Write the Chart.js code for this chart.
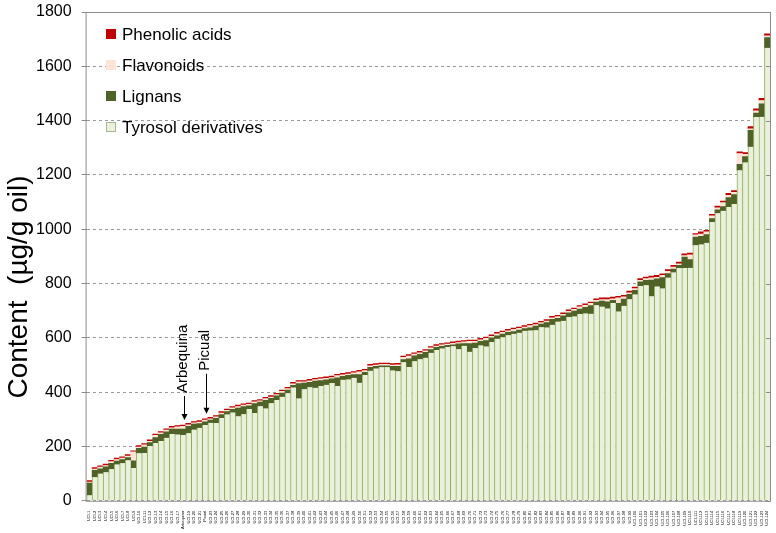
<!DOCTYPE html>
<html>
<head>
<meta charset="utf-8">
<script src="https://cdn.jsdelivr.net/npm/chart.js@4/dist/chart.umd.min.js"></script>
<style>
  body { margin: 0; background: #fff; }
  #wrap { position: relative; width: 776px; height: 533px; }
  #legend { position: absolute; left: 106px; top: 22px; font-family: "Liberation Sans", Arial, sans-serif; font-size: 17px; color: #000; }
  #legend div { height: 31px; line-height: 26px; white-space: nowrap; }
  #legend span { display: inline-block; width: 10px; height: 10px; margin-right: 6px; vertical-align: 1px; box-sizing: border-box; }
</style>
</head>
<body>
<div id="wrap">
  <canvas id="graphOil" width="776" height="533"></canvas>
  <div id="legend">
    <div><span style="background:#C00000"></span>Phenolic acids</div>
    <div><span style="background:#FCE4D6"></span>Flavonoids</div>
    <div><span style="background:#4F6228"></span>Lignans</div>
    <div><span style="background:#EBF1DE;border:1px solid #A6B98A"></span>Tyrosol derivatives</div>
  </div>
</div>
<script>
// values, oils sorted by total content
const tyrosol = [
  20, 87, 100, 105, 116, 134, 138, 149, 121, 175,
  176, 202, 213, 220, 232, 246, 244, 242, 249, 262,
  269, 279, 287, 286, 305, 318, 325, 311, 319, 338,
  323, 348, 340, 359, 371, 383, 396, 417, 377, 411,
  418, 416, 423, 427, 434, 423, 446, 447, 453, 435,
  463, 479, 487, 492, 492, 480, 477, 510, 493, 514,
  521, 527, 545, 555, 561, 566, 569, 558, 571, 549,
  563, 572, 568, 585, 597, 602, 610, 615, 619, 626,
  627, 628, 639, 638, 648, 660, 663, 677, 679, 688,
  690, 689, 720, 715, 708, 728, 697, 718, 742, 760,
  791, 794, 753, 789, 782, 822, 841, 857, 857, 858,
  941, 944, 950, 1027, 1059, 1068, 1082, 1093, 1217, 1246,
  1304, 1413, 1414, 1668
]
const lignans = [
  45, 25, 18, 20, 22, 12, 14, 10, 26, 18,
  22, 12, 20, 25, 22, 18, 20, 22, 25, 20,
  15, 12, 10, 18, 12, 10, 12, 30, 28, 12,
  35, 15, 30, 18, 15, 14, 12, 8, 55, 22,
  18, 25, 20, 18, 15, 30, 12, 15, 12, 30,
  10, 12, 8, 5, 5, 15, 18, 10, 30, 20,
  18, 20, 12, 10, 8, 6, 5, 20, 8, 30,
  18, 15, 22, 15, 10, 12, 10, 8, 10, 8,
  10, 15, 12, 18, 20, 12, 18, 15, 20, 18,
  22, 30, 12, 20, 25, 10, 30, 25, 18, 15,
  15, 18, 60, 28, 40, 15, 12, 10, 40, 30,
  30, 30, 30, 12, 12, 15, 35, 35, 22, 22,
  60, 15, 48, 38
]
const flavonoids = [
  4, 5, 6, 5, 6, 6, 5, 6, 33, 5,
  8, 5, 8, 5, 6, 5, 8, 10, 6, 5,
  6, 6, 5, 5, 6, 5, 5, 6, 5, 5,
  6, 5, 6, 5, 5, 6, 5, 6, 6, 5,
  6, 5, 6, 6, 5, 8, 6, 5, 6, 10,
  6, 6, 5, 5, 5, 5, 6, 8, 10, 6,
  6, 5, 6, 5, 5, 5, 6, 5, 6, 8,
  6, 6, 8, 6, 8, 6, 6, 8, 6, 6,
  8, 6, 5, 6, 6, 6, 6, 6, 6, 8,
  8, 8, 6, 6, 8, 6, 20, 8, 6, 6,
  6, 6, 8, 6, 8, 8, 8, 6, 6, 18,
  8, 8, 10, 10, 8, 15, 8, 8, 40, 8,
  6, 8, 12, 6
]
const phenolicAcids = [
  5, 5, 5, 5, 5, 5, 5, 5, 4, 5,
  5, 5, 5, 5, 5, 5, 5, 5, 5, 5,
  5, 5, 5, 5, 5, 5, 5, 5, 5, 5,
  5, 5, 5, 5, 5, 5, 5, 5, 5, 5,
  5, 5, 5, 5, 5, 5, 5, 5, 5, 5,
  5, 5, 5, 5, 5, 5, 5, 5, 5, 5,
  5, 5, 5, 5, 5, 5, 5, 5, 5, 5,
  5, 5, 5, 5, 5, 5, 5, 5, 5, 5,
  5, 5, 5, 5, 5, 5, 5, 5, 5, 5,
  5, 5, 6, 6, 6, 6, 6, 6, 6, 6,
  6, 6, 6, 7, 6, 6, 6, 6, 6, 6,
  5, 8, 6, 6, 6, 6, 7, 6, 6, 6,
  8, 7, 8, 8
]
const yTicks = [0, 200, 400, 600, 800, 1000, 1200, 1400, 1600, 1800]
const yTitle = 'Content  (µg/g oil)'

// oil labels (too small to read in the original), two named cultivars
const labels = tyrosol.map((v, i) => 'UCI-' + (i + 1))
labels[17] = 'Arbequina'
labels[21] = 'Picual'
const marked = [
  { index: 17, text: 'Arbequina', len: 24 },
  { index: 21, text: 'Picual', len: 40 }
]

const totalAt = i => tyrosol[i] + lignans[i] + flavonoids[i] + phenolicAcids[i]

const framePlugin = {
  id: 'frameAndArrows',
  afterDatasetsDraw(chart) {
    const { ctx, chartArea: a, scales } = chart
    ctx.save()
    ctx.strokeStyle = '#8c8c8c'
    ctx.lineWidth = 1
    ctx.strokeRect(a.left - 0.5, a.top + 0.5, a.right - a.left + 1, a.bottom - a.top)
    // right side tick marks
    yTicks.forEach(t => {
      const y = Math.round(scales.y.getPixelForValue(t)) + 0.5
      ctx.beginPath()
      ctx.moveTo(a.right - 4, y)
      ctx.lineTo(a.right, y)
      ctx.stroke()
    })
    ctx.strokeStyle = '#000'
    ctx.fillStyle = '#000'
    ctx.font = '15px "Liberation Sans", Arial, sans-serif'
    marked.forEach(m => {
      const x = Math.round(scales.x.getPixelForValue(m.index)) + 1.5
      const tip = scales.y.getPixelForValue(totalAt(m.index)) - 5
      const start = tip - m.len
      ctx.beginPath()
      ctx.moveTo(x, start)
      ctx.lineTo(x, tip - 4)
      ctx.stroke()
      ctx.beginPath()
      ctx.moveTo(x - 3, tip - 6)
      ctx.lineTo(x + 3, tip - 6)
      ctx.lineTo(x, tip)
      ctx.closePath()
      ctx.fill()
      ctx.save()
      ctx.translate(x - 2, start - 3)
      ctx.rotate(-Math.PI / 2)
      ctx.textAlign = 'left'
      ctx.textBaseline = 'middle'
      ctx.fillText(m.text, 0, 0)
      ctx.restore()
    })
    // axis title, placed a bit below the middle like the original
    ctx.save()
    ctx.translate(19, 287)
    ctx.rotate(-Math.PI / 2)
    ctx.textAlign = 'center'
    ctx.textBaseline = 'middle'
    ctx.font = '28px "Liberation Sans", Arial, sans-serif'
    ctx.fillText(yTitle, 0, 0)
    ctx.restore()
    ctx.restore()
  }
}

const ctx = document.getElementById('graphOil')
const config = {
  type: 'bar',
  data: {
    labels: labels,
    datasets: [{
      label: 'Tyrosol derivatives',
      data: tyrosol,
      backgroundColor: '#E9F0DB',
      borderColor: '#8FAC58',
      borderWidth: { left: 1, right: 0, top: 0, bottom: 0 },
      borderSkipped: false
    }, {
      label: 'Lignans',
      data: lignans,
      backgroundColor: '#4F6228'
    }, {
      label: 'Flavonoids',
      data: flavonoids,
      backgroundColor: '#FCE4D6'
    }, {
      label: 'Phenolic acids',
      data: phenolicAcids,
      backgroundColor: '#C00000'
    }]
  },
  options: {
    responsive: false,
    animation: false,
    layout: { padding: { left: 26, right: 6, top: 12, bottom: 2 } },
    datasets: { bar: { barPercentage: 1, categoryPercentage: 1 } },
    plugins: {
      legend: { display: false },
      tooltip: { enabled: false }
    },
    scales: {
      x: {
        stacked: true,
        grid: { display: false },
        border: { display: false },
        ticks: {
          autoSkip: false,
          minRotation: 90,
          maxRotation: 90,
          padding: 2,
          color: '#000',
          font: { size: 4, family: '"Liberation Sans", Arial, sans-serif' }
        }
      },
      y: {
        stacked: true,
        min: 0,
        max: 1800,
        afterBuildTicks: axis => { axis.ticks = yTicks.map(v => ({ value: v })) },
        afterFit: axis => { axis.paddingTop = 0 },
        grid: {
          color: '#9a9a9a',
          tickLength: 5,
          tickColor: '#8c8c8c',
          tickBorderDash: []
        },
        border: { display: false, dash: [3, 3] },
        ticks: {
          padding: 10,
          color: '#000',
          callback: value => `${value}`,
          font: { size: 16, family: '"Liberation Sans", Arial, sans-serif' }
        }
      }
    }
  },
  plugins: [framePlugin]
}
let chartOil = new Chart(ctx, config)
</script>
</body>
</html>
